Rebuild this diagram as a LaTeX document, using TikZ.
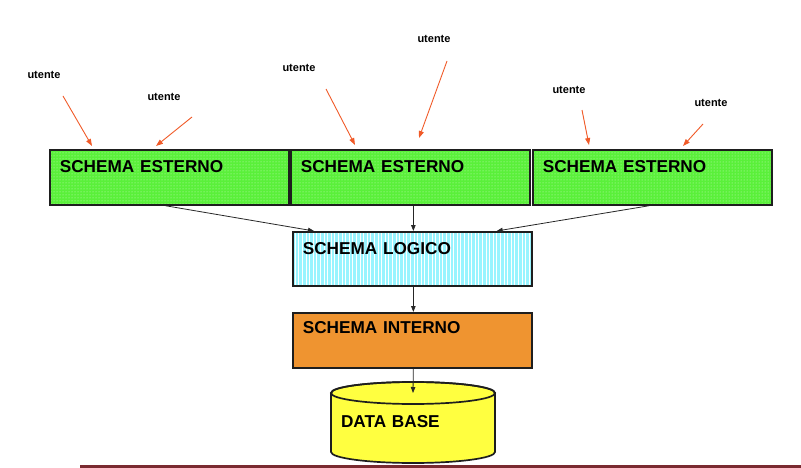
\documentclass[tikz,border=0pt]{standalone}
\usepackage{fontspec}
\setmainfont{Liberation Sans}
\usetikzlibrary{calc,patterns,patterns.meta,arrows.meta}
\definecolor{esgreen}{HTML}{5AF03A}
\definecolor{lgcyan}{HTML}{99F4FF}
\definecolor{inorange}{HTML}{EF9430}
\definecolor{dbyellow}{HTML}{FFFF40}
\definecolor{usered}{HTML}{F05A28}
\definecolor{barred}{HTML}{7A2A30}
\definecolor{boxline}{HTML}{1E1E1E}
\tikzset{
  schemabox/.style={draw=boxline, line width=1.7pt, rectangle, inner xsep=10pt, inner ysep=0pt,
    minimum width=239pt, text width=219pt, align=left,
    font=\fontsize{17.2}{19}\selectfont\bfseries},
  esterno/.style={schemabox, fill=esgreen, text height=23pt, text depth=32pt,
    postaction={pattern=dots, pattern color=white!70!esgreen},
    postaction={draw=boxline, line width=1.7pt}},
  logico/.style={schemabox, fill=lgcyan, text height=23pt, text depth=31pt,
    postaction={pattern={Lines[angle=90,distance=3.6pt,line width=1pt]}, pattern color=white},
    postaction={draw=boxline, line width=1.7pt}},
  interno/.style={schemabox, fill=inorange, text height=21pt, text depth=34pt},
  utente/.style={inner sep=0pt, font=\fontsize{11}{12}\selectfont\bfseries},
  userarrow/.style={draw=usered, line width=0.9pt, -{Triangle[length=7pt,width=5pt]}},
  flow/.style={draw=black!85, line width=0.8pt, -{Triangle[length=6pt,width=4.5pt]}},
}
\begin{document}
\begin{tikzpicture}[x=1pt,y=-1pt]
\useasboundingbox (0,0) rectangle (801,468);
% external schemas
\node[esterno, anchor=north west] (e1) at (49,149) {SCHEMA ESTERNO};
\node[esterno, anchor=north west] (e2) at (290,149) {SCHEMA ESTERNO};
\node[esterno, anchor=north west] (e3) at (532,149) {SCHEMA ESTERNO};
% logical and internal schemas
\node[logico, anchor=north west] (lg) at (292,231) {SCHEMA LOGICO};
\node[interno, anchor=north west] (in) at (292,312) {SCHEMA INTERNO};
% database cylinder
\coordinate (dbtop) at (413,393);
\draw[boxline, line width=1.7pt, fill=dbyellow]
  (331,393) -- (331,452) arc[start angle=180, end angle=0, x radius=82, y radius=11]
  -- (495,393) arc[start angle=0, end angle=-180, x radius=82, y radius=11] -- cycle;
\draw[boxline, line width=1.7pt] (dbtop) ellipse[x radius=82, y radius=11];
\node[inner sep=0pt, minimum width=164pt, minimum height=70pt, text width=144pt, align=left,
  font=\fontsize{17.2}{19}\selectfont\bfseries] (db) at (413,422) {DATA BASE};
% users
\node[utente] (u1) at (44,75) {utente};
\node[utente] (u2) at (164,97) {utente};
\node[utente] (u3) at (299,68) {utente};
\node[utente] (u4) at (434,39) {utente};
\node[utente] (u5) at (569,90) {utente};
\node[utente] (u6) at (711,103) {utente};
\draw[userarrow] ($(u1.center)+(19,21)$) -- ($(e1.north west)+(43,-3)$);
\draw[userarrow] ($(u2.center)+(28,20)$) -- ($(e1.north west)+(107,-3)$);
\draw[userarrow] ($(u3.center)+(27,21)$) -- ($(e2.north west)+(65,-4)$);
\draw[userarrow] ($(u4.center)+(13,22)$) -- ($(e2.north west)+(129,-11)$);
\draw[userarrow] ($(u5.center)+(13,20)$) -- ($(e3.north west)+(57,-4)$);
\draw[userarrow] ($(u6.center)+(-8,21)$) -- ($(e3.north west)+(151,-3)$);
% flows
\draw[flow] ($(e1.south)+(-4,0)$) -- ($(lg.north west)+(22,0)$);
\draw[flow] ($(e2.south)+(3,0)$) -- ($(lg.north)+(1,0)$);
\draw[flow] ($(e3.south)+(-3,0)$) -- ($(lg.north east)+(-36,0)$);
\draw[flow] ($(lg.south)+(1,0)$) -- ($(in.north)+(1,0)$);
\draw[flow] ($(in.south)+(1,0)$) -- (dbtop);
% bottom bar
\coordinate (barL) at (80,466);
\coordinate (barR) at (801,466);
\draw[barred, line width=3pt] (barL) -- (barR);
\end{tikzpicture}
\end{document}
